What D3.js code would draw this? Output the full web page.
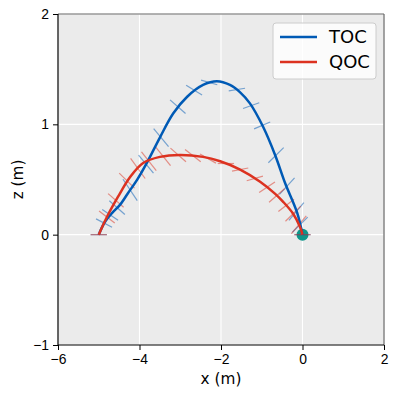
<!DOCTYPE html>
<html lang="en">
<head>
	<meta charset="utf-8">
	<title>TOC vs QOC trajectory</title>
	<script src="https://d3js.org/d3.v7.min.js" charset="utf-8"></script>
	<style>
		body {
			margin: 0;
			background: #fff;
			font-family: "DejaVu Sans", sans-serif;
		}
		.tick text {
			font-size: 13.9px;
			fill: #000;
		}
		.grid line {
			stroke: #fff;
			stroke-width: 1.1;
		}
		.traj {
			fill: none;
			stroke-width: 2.5;
		}
		.att {
			stroke-width: 1.2;
			opacity: 0.5;
		}
	</style>
</head>
<body>
<script>

	// trajectory points, x (m) and z (m)
	var tocX = [-5, -4.85, -4.67, -4.48, -4.28, -4.06, -3.82, -3.50, -3.17, -2.83, -2.44, -2.10, -1.78, -1.53, -1.29, -0.97, -0.67, -0.43, -0.13, 0];
	var tocZ = [0, 0.115, 0.197, 0.27, 0.378, 0.496, 0.65, 0.88, 1.10, 1.25, 1.357, 1.39, 1.357, 1.29, 1.19, 0.98, 0.72, 0.47, 0.197, 0];

	var qocX = [-5, -4.80, -4.53, -4.23, -3.91, -3.50, -3.01, -2.44, -2.02, -1.53, -1.04, -0.67, -0.48, -0.23, -0.06, 0];
	var qocZ = [0, 0.16, 0.342, 0.523, 0.65, 0.705, 0.723, 0.705, 0.665, 0.59, 0.48, 0.37, 0.30, 0.19, 0.07, 0];

	// attitude samples: position and pitch (deg)
	var tocAttX = [-5, -4.87, -4.72, -4.55, -4.23, -3.84, -3.47, -3.06, -2.66, -2.29, -1.61, -1.26, -0.99, -0.65, -0.38, -0.15, -0.06, 0];
	var tocAttZ = [0, 0.105, 0.18, 0.245, 0.405, 0.64, 0.88, 1.16, 1.31, 1.38, 1.315, 1.17, 0.99, 0.72, 0.44, 0.21, 0.09, 0];
	var tocPitch = [0, -11, -14, -18, -29, -24, -24, -18, -12.5, -6, 3.5, 7.5, 9, 20, 22, 24, 20, 0];

	var qocAttX = [-5, -4.80, -4.58, -4.31, -4.04, -3.77, -3.42, -3.05, -2.69, -2.32, -1.88, -1.53, -1.17, -0.87, -0.63, -0.40, -0.23, -0.09, 0];
	var qocAttZ = [0, 0.16, 0.31, 0.49, 0.60, 0.665, 0.71, 0.723, 0.716, 0.69, 0.645, 0.59, 0.51, 0.43, 0.355, 0.265, 0.19, 0.09, 0];
	var qocPitch = [0, -16, -18, -20, -27, -25, -25, -18, -16, -12, 0, 4, 6, 14, 18, 16, 20, 24, 0];

	var xTicks = [-6, -4, -2, 0, 2];
	var zTicks = [-1, 0, 1, 2];
	var target = [0, 0];
	var armLength = 0.2;

	var seriesNames = ["TOC", "QOC"];
	var seriesColors = ["#005ab5", "#dc3220"];

	var width = 398, height = 396;
	var margin = {top: 14, right: 14, bottom: 51, left: 58};

	var svg = d3.select("body")
		.append("svg")
		.attr("width", width)
		.attr("height", height);

	var x = d3.scaleLinear().domain([-6, 2]).range([margin.left, width - margin.right]);
	var y = d3.scaleLinear().domain([-1, 2]).range([height - margin.bottom, margin.top]);

	// panel background
	svg.append("rect")
		.attr("x", x(-6))
		.attr("y", y(2))
		.attr("width", x(2) - x(-6))
		.attr("height", y(-1) - y(2))
		.attr("fill", "#ebebeb");

	// grid
	var grid = svg.append("g").attr("class", "grid");
	grid.selectAll(".gx")
		.data(xTicks)
		.enter()
		.append("line")
		.attr("x1", function(d){ return x(d); })
		.attr("x2", function(d){ return x(d); })
		.attr("y1", y(-1))
		.attr("y2", y(2));
	grid.selectAll(".gz")
		.data(zTicks)
		.enter()
		.append("line")
		.attr("x1", x(-6))
		.attr("x2", x(2))
		.attr("y1", function(d){ return y(d); })
		.attr("y2", function(d){ return y(d); });

	// target
	svg.append("circle")
		.attr("cx", x(target[0]))
		.attr("cy", y(target[1]))
		.attr("r", 6)
		.attr("fill", "#0f968a");

	var series = [
		{line: d3.zip(tocX, tocZ), att: d3.zip(tocAttX, tocAttZ, tocPitch)},
		{line: d3.zip(qocX, qocZ), att: d3.zip(qocAttX, qocAttZ, qocPitch)}
	];

	// attitude bars
	series.forEach(function(s, i){
		svg.append("g")
			.selectAll("line")
			.data(s.att)
			.enter()
			.append("line")
			.attr("class", "att")
			.attr("stroke", seriesColors[i])
			.attr("x1", function(d){ return x(d[0] - armLength * Math.cos(d[2] * Math.PI / 180)); })
			.attr("y1", function(d){ return y(d[1] - armLength * Math.sin(d[2] * Math.PI / 180)); })
			.attr("x2", function(d){ return x(d[0] + armLength * Math.cos(d[2] * Math.PI / 180)); })
			.attr("y2", function(d){ return y(d[1] + armLength * Math.sin(d[2] * Math.PI / 180)); });
	});

	var line = d3.line()
		.x(function(d){ return x(d[0]); })
		.y(function(d){ return y(d[1]); })
		.curve(d3.curveCatmullRom);

	series.forEach(function(s, i){
		svg.append("path")
			.datum(s.line)
			.attr("class", "traj")
			.attr("stroke", seriesColors[i])
			.attr("d", line);
	});

	// axes
	var fmt = d3.format("d");
	svg.append("g")
		.attr("transform", "translate(0," + y(-1) + ")")
		.call(d3.axisBottom(x).tickValues(xTicks).tickSize(5).tickPadding(4).tickFormat(fmt))
		.call(function(g){ g.select(".domain").remove(); });
	svg.append("g")
		.attr("transform", "translate(" + x(-6) + ",0)")
		.call(d3.axisLeft(y).tickValues(zTicks).tickSize(5).tickPadding(4).tickFormat(fmt))
		.call(function(g){ g.select(".domain").remove(); });

	// spines
	svg.append("line").attr("x1", x(2)).attr("x2", x(2)).attr("y1", y(2)).attr("y2", y(-1)).attr("stroke", "#666").attr("stroke-width", 1.2);
	svg.append("line").attr("x1", x(-6)).attr("x2", x(2)).attr("y1", y(2)).attr("y2", y(2)).attr("stroke", "#666").attr("stroke-width", 1.2);
	svg.append("line").attr("x1", x(-6)).attr("x2", x(-6)).attr("y1", y(2)).attr("y2", y(-1)).attr("stroke", "#000").attr("stroke-width", 1.2);
	svg.append("line").attr("x1", x(-6)).attr("x2", x(2)).attr("y1", y(-1)).attr("y2", y(-1)).attr("stroke", "#000").attr("stroke-width", 1.2);

	// axis labels
	svg.append("text")
		.attr("x", (x(-6) + x(2)) / 2)
		.attr("y", 384)
		.attr("text-anchor", "middle")
		.attr("font-size", "15.3px")
		.text("x (m)");
	svg.append("text")
		.attr("transform", "translate(23," + ((y(-1) + y(2)) / 2) + ") rotate(-90)")
		.attr("text-anchor", "middle")
		.attr("font-size", "15.3px")
		.text("z (m)");

	// legend
	var legend = svg.append("g");
	legend.append("rect")
		.attr("x", 273)
		.attr("y", 23)
		.attr("width", 103)
		.attr("height", 56)
		.attr("rx", 3)
		.attr("fill", "#fff")
		.attr("fill-opacity", 0.8)
		.attr("stroke", "#ccc");
	seriesNames.forEach(function(name, i){
		legend.append("line")
			.attr("x1", 280)
			.attr("x2", 317)
			.attr("y1", 37 + i * 25)
			.attr("y2", 37 + i * 25)
			.attr("stroke", seriesColors[i])
			.attr("stroke-width", 2.5);
		legend.append("text")
			.attr("x", 329)
			.attr("y", 43 + i * 25)
			.attr("font-size", "18px")
			.text(name);
	});

</script>
</body>
</html>
